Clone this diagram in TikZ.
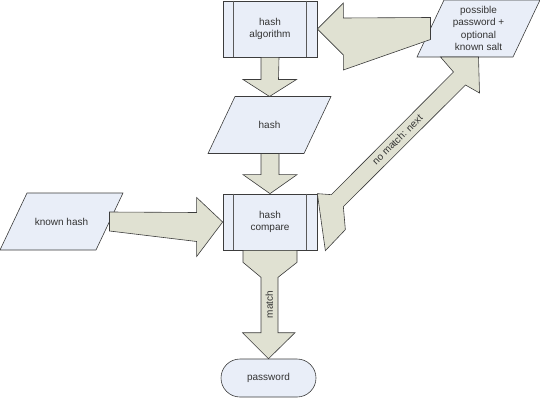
\documentclass[tikz,border=0pt]{standalone}
\usepackage{fontspec}
\setmainfont{Liberation Sans}
\usetikzlibrary{backgrounds,calc,positioning}
\definecolor{boxfill}{HTML}{E9EEF8}
\definecolor{arrowfill}{HTML}{E0E1D2}
\definecolor{ink}{HTML}{3C3C3C}
\definecolor{textgray}{HTML}{333333}
\newcommand{\boxfont}{\fontsize{10}{12.6}\selectfont}
\tikzset{
  procbox/.style={draw=ink,fill=boxfill,line width=0.7pt,minimum width=94pt,
                  minimum height=56pt,inner sep=2pt,align=center,text=textgray,
                  font=\boxfont},
  databox/.style={minimum width=96pt,minimum height=57pt,inner sep=1pt,
                  outer sep=0pt,align=center,text=textgray,font=\boxfont},
  dataedge/.style={draw=ink,fill=boxfill,line width=0.6pt},
  termbox/.style={draw=ink,fill=boxfill,line width=0.6pt,rounded corners=19pt,
                  minimum width=95pt,minimum height=38pt,text=textgray,
                  font=\boxfont},
  fatarrow/.style={draw=ink,fill=arrowfill,line width=0.6pt,line join=miter},
  sideline/.style={draw=ink!85,line width=1.2pt},
  arrowlabel/.style={text=textgray,font=\boxfont,inner sep=0pt}
}

\begin{document}
\begin{tikzpicture}[x=1pt,y=-1pt]
  \useasboundingbox (0,0) rectangle (540,398);

  % boxes
  \node[procbox] (algo) at (270,29) {hash\\algorithm};
  \node[databox] (hash) at (269.5,125) {hash};
  \node[procbox] (cmp) at (270,222) {hash\\compare};
  \node[databox] (known) at (61.5,221.5) {known hash};
  \node[databox] (poss) at (478.5,28.5)
    {possible\\password +\\optional\\known salt};
  \node[termbox] (pwd) at (268.5,378) {password};

  % parallelograms behind the data texts
  \begin{scope}[on background layer]
    \foreach \b in {hash,known,poss}
      \draw[dataedge] ($(\b.north west)+(13.5,0)$) -- ($(\b.north east)+(13.5,0)$)
        -- ($(\b.south east)+(-13.5,0)$) -- ($(\b.south west)+(-13.5,0)$) -- cycle;
  \end{scope}

  % process side lines
  \foreach \b in {algo,cmp} {
    \draw[sideline] ($(\b.north west)+(11,0)$) -- ($(\b.south west)+(11,0)$);
    \draw[sideline] ($(\b.north east)+(-11,0)$) -- ($(\b.south east)+(-11,0)$);
  }

  % algorithm -> hash
  \draw[fatarrow] ($(algo.south)+(-9,0)$) -- ($(hash.north)+(-8.5,-17)$)
    -- ++(-18,0) -- (hash.north) -- ++(27,-17) -- ++(-18,0)
    -- ($(algo.south)+(9,0)$) -- cycle;

  % hash -> compare
  \draw[fatarrow] ($(hash.south)+(-8.5,0)$) -- ($(cmp.north)+(-9,-19)$)
    -- ++(-18,0) -- (cmp.north) -- ++(27,-19) -- ++(-18,0)
    -- ($(hash.south)+(9.5,0)$) -- cycle;

  % known hash -> compare
  \draw[fatarrow] ($(known.east)+(0,-9.5)$) -- ($(cmp.west)+(-26,-9.5)$)
    -- ++(0,-15) -- (cmp.west) -- ++(-26,34.5) -- ++(0,-15)
    -- ($(known.east)+(0,9.5)$) -- cycle;

  % possible password -> algorithm
  \draw[fatarrow] ($(poss.west)+(0,-11)$) -- ($(algo.east)+(26,-11)$)
    -- ++(0,-15) -- (algo.east) -- ++(26,26) -- ++(0,15)
    -- ($(poss.west)+(0,11)$) -- cycle;

  % compare -> password (match)
  \draw[fatarrow] ($(cmp.south)+(-27,0)$) -- ++(0,12) -- ($(cmp.south)+(-9,27)$)
    -- ($(pwd.north)+(-7.5,-26)$) -- ++(-18.5,0) -- (pwd.north)
    -- ++(26.5,-26) -- ++(-17,0) -- ($(cmp.south)+(8,27)$)
    -- ($(cmp.south)+(27,12)$) -- ++(0,-12) -- cycle;
  \node[arrowlabel,rotate=90] (matchlbl) at ($(cmp.south)!0.5!(pwd.north)$)
    {match};

  % compare -> possible password (no match)
  \draw[fatarrow] (cmp.north east) -- ($(cmp.north east)+(14,1)$)
    -- ($(poss.south)+(-25,15)$) -- ($(poss.south)+(-38,0)$) -- (poss.south)
    -- ($(poss.south)+(1,36)$) -- ($(poss.south)+(-13,28)$)
    -- ($(cmp.north east)+(26,13)$) -- ($(cmp.north east)+(28,36)$)
    -- ($(cmp.north east)+(8,57)$) -- cycle;
  \node[arrowlabel,rotate=45] (nomatchlbl) at ($(cmp.north east)+(80,-54)$)
    {no match: next};
\end{tikzpicture}
\end{document}
